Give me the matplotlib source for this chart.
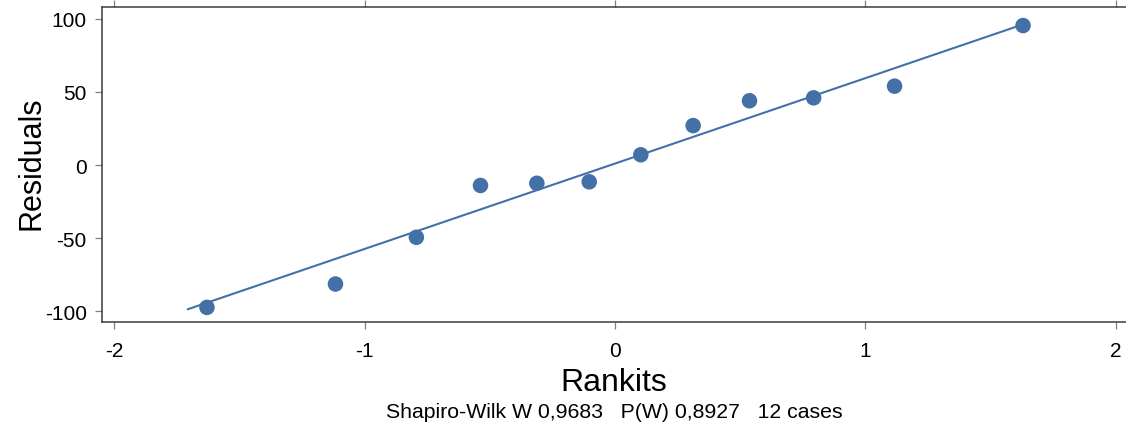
import matplotlib
matplotlib.use("Agg")
import matplotlib.pyplot as plt

plt.rcParams["font.family"] = ["Liberation Sans", "DejaVu Sans"]

# rankits (normal scores) and ordered residuals
rankits = [-1.629, -1.116, -0.793, -0.537, -0.312, -0.103,
           0.103, 0.312, 0.537, 0.793, 1.116, 1.629]
residuals = [-97.5, -81.5, -49.5, -14.0, -12.5, -11.5,
             7.0, 27.0, 44.0, 46.0, 54.0, 95.5]

# reference line: intercept + slope * rankit
line_x = [-1.705, 1.629]
intercept = 1.0
slope = 58.5

x_ticks = [-2, -1, 0, 1, 2]
y_ticks = [-100, -50, 0, 50, 100]
subtitle = "Shapiro-Wilk W 0,9683   P(W) 0,8927   12 cases"

BLUE = "#4470a8"
AXIS = "#3c3c3c"

fig = plt.figure(figsize=(11.26, 4.31), dpi=100)
ax = fig.add_axes([102 / 1126, 1 - 323 / 431, 1 - 102 / 1126, 315 / 431])

line_y = [intercept + slope * x for x in line_x]
ax.plot(line_x, line_y, color=BLUE, linewidth=1.5, zorder=2)
ax.scatter(rankits, residuals, s=125, color=BLUE, edgecolors="none", zorder=3)

ax.set_xlim(-2.048, 2.04)
ax.set_ylim(-107.5, 108.2)

ax.set_xticks(x_ticks)
ax.set_xticklabels([str(t) for t in x_ticks])
ax.set_yticks(y_ticks)
ax.set_yticklabels([str(t) for t in y_ticks])

ax.spines["right"].set_visible(False)
for side in ["left", "bottom", "top"]:
    ax.spines[side].set_color(AXIS)
    ax.spines[side].set_linewidth(1.1)

ax.tick_params(axis="both", labelsize=15, length=5, width=0.9, color="#808080",
               direction="out", pad=6)
ax.tick_params(axis="x", top=True, labeltop=False, pad=9)

fig.text(31 / 1126, 1 - 163 / 431, "Residuals", fontsize=22, rotation=90,
         ha="center", va="center")
fig.text(614 / 1126, 1 - 383 / 431, "Rankits", fontsize=23,
         ha="center", va="center")
fig.text(614 / 1126, 1 - 413 / 431, subtitle, fontsize=15.3,
         ha="center", va="center")

fig.savefig("out.png", dpi=100)
